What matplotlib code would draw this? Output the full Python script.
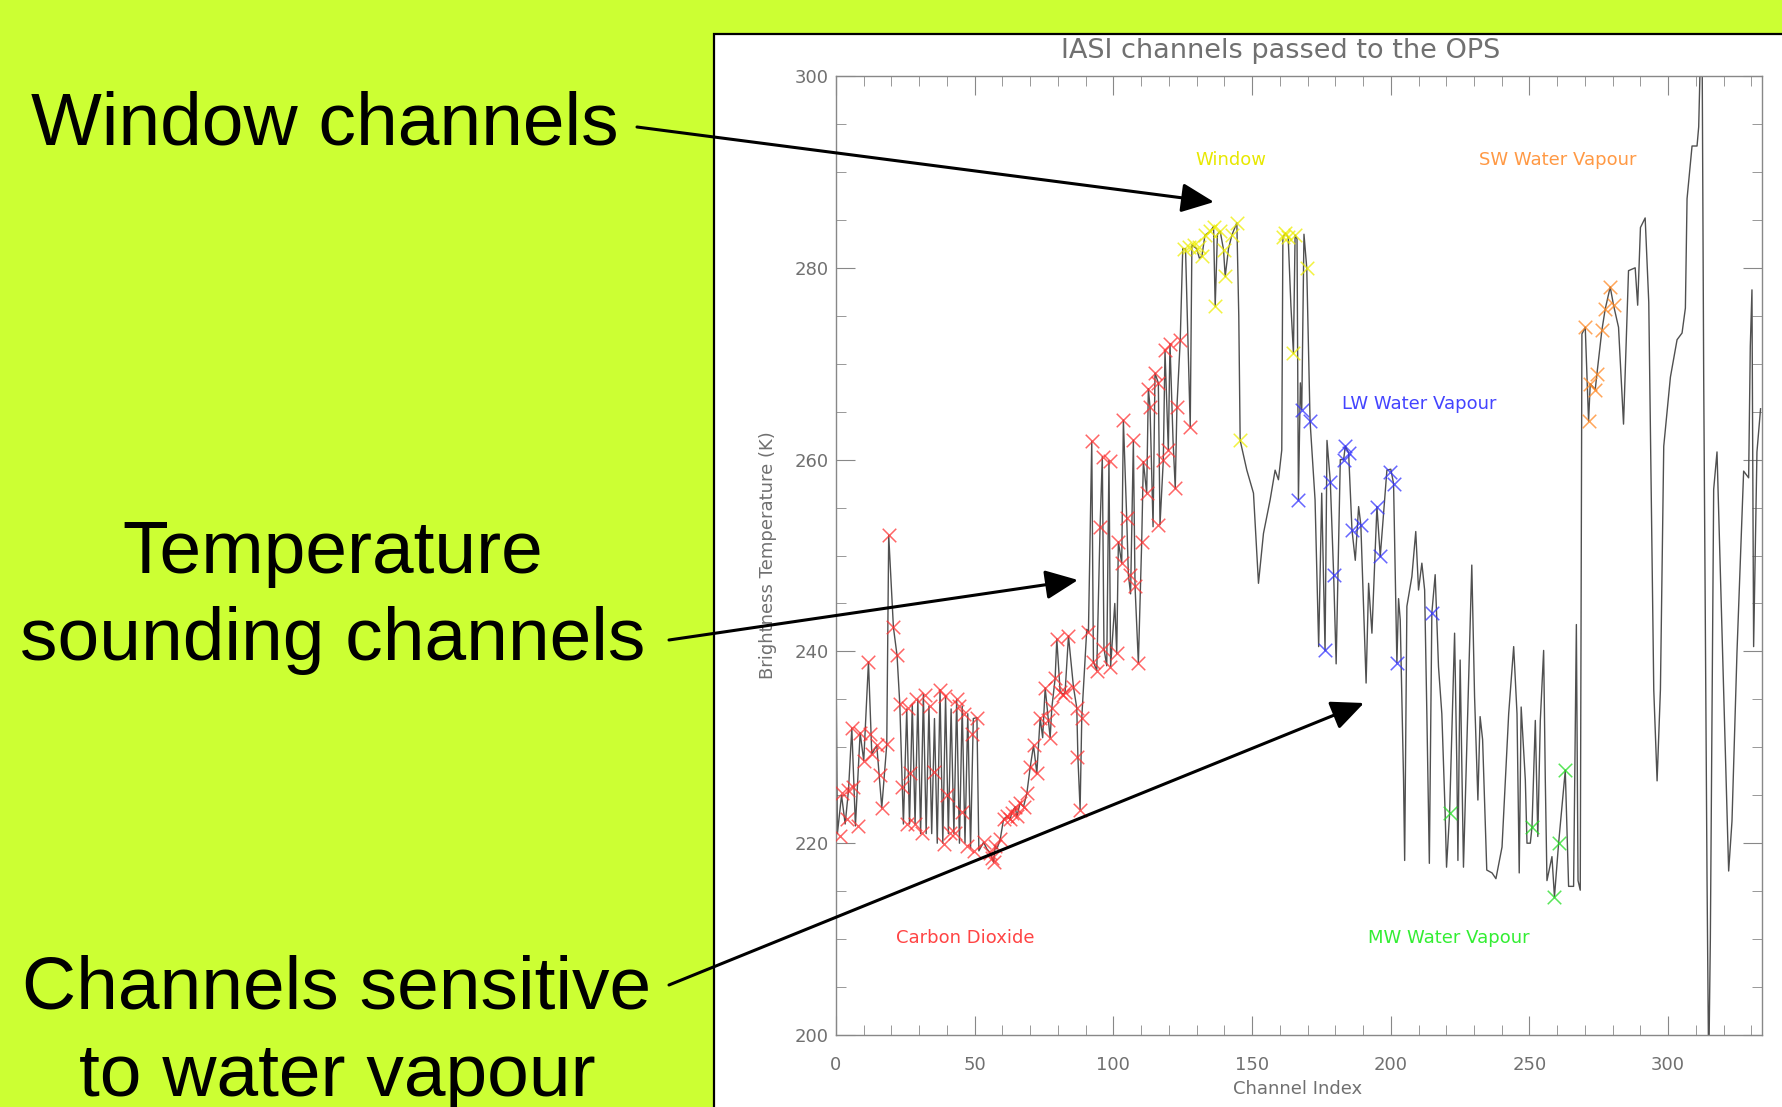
import matplotlib
matplotlib.use("Agg")
import matplotlib.pyplot as plt
from matplotlib.patches import Rectangle, FancyArrowPatch
from matplotlib.ticker import MultipleLocator

# ---- spectrum (channel index, brightness temperature K) ----
line_x = [
    0, 0.5, 2, 3.3, 4.5, 5.7, 7, 8.7, 10, 11.7, 12.9, 14.7, 16.5, 18.3, 19, 20.7, 22, 23, 24.3,
    25.5, 26.5, 27.5, 28.5, 29.5, 30.5, 31.5, 32.5, 33.5, 34.5, 35.5, 36.5, 37.5, 38.5, 39.5,
    40.5, 41.5, 42.5, 43.5, 44.5, 45.5, 46.5, 47.5, 48.5, 49.5, 50.8, 51.5, 53.2, 54.4, 55.6,
    56.2, 56.8, 57.4, 58, 59.2, 60.4, 61.6, 62.8, 63.4, 64.6, 65.2, 66.4, 67.6, 68.8, 70, 71.2,
    72.4, 73.6, 74.5, 75.4, 76.6, 77.2, 77.8, 79, 79.6, 80.8, 82, 82.6, 83.8, 85.6, 86.8, 87.2,
    88, 88.6, 90.4, 91, 92.2, 92.8, 94, 95.2, 96, 96.6, 97.6, 98.4, 99, 100.5, 101.2, 101.8,
    103, 103.6, 104.8, 105.4, 106.2, 107.2, 107.8, 109, 110.2, 110.8, 112, 112.6, 113.2, 114.3,
    115, 116.2, 116.8, 118, 118.6, 119.8, 120.4, 121.5, 122.3, 122.9, 124.1, 125, 126, 127.7,
    128.3, 130, 131, 131.9, 133, 134.9, 136.1, 136.7, 137.5, 138.5, 139.7, 140.3, 141.5, 142.7,
    144.5, 145.2, 145.7, 148.1, 150.5, 152.3, 154.1, 156.5, 158.3, 159.5, 160.7, 161.1, 162,
    163, 164, 164.9, 165.5, 166.2, 166.7, 167.4, 167.9, 168.7, 169.7, 170.9, 172.7, 174, 175.1,
    176.3, 177, 178.2, 179.4, 180.3, 181.8, 183, 183.6, 184.8, 186, 187.2, 188.4, 189.2, 191.1,
    192, 193.2, 195, 196.2, 198.6, 200, 201, 202.2, 202.8, 203.4, 204.6, 205, 205.8, 207.6, 209,
    210, 211.2, 212.2, 213, 213.9, 214.8, 216, 217.2, 218.4, 219.6, 220.1, 221.2, 223, 223.8,
    224.2, 225, 226.2, 227.4, 229.2, 230.2, 231.4, 232.2, 233.1, 234.6, 236.5, 237.9, 240.1,
    242.5, 244.3, 245.5, 246.3, 247, 248.5, 249.1, 250.3, 250.9, 252.1, 253, 253.9, 255.1,
    255.7, 256.3, 258.1, 259, 260.5, 262.9, 264.1, 265.9, 266.9, 267.5, 268.3, 268.9, 270.1,
    271.3, 271.9, 273.7, 274.3, 276.1, 277.3, 279.1, 280.3, 282.1, 283.9, 285.7, 288.1, 289, 290,
    291.7, 293, 294.8, 296, 297.2, 298.4, 300.8, 303.2, 305, 306.2, 306.8, 308.6, 310.4, 311,
    311.6, 312.2, 312.8, 314, 314.6, 315.2, 316.4, 317.6, 320, 321.8, 323, 324.8, 326.6, 327.2,
    329, 329.6, 330.2, 330.8, 332, 333.3,
]
line_y = [
    239, 221, 225, 222, 225.5, 232, 221.8, 231.5, 228.6, 238.9, 229.3, 230.2, 223.7, 230.3, 252.1,
    242.5, 239.6, 234.5, 222, 234, 222, 234.5, 222, 235, 221, 235.5, 221, 234.3, 221, 233, 220,
    236, 220, 235.3, 221, 234, 221, 235, 220, 234.3, 220, 233.5, 219.5, 233, 233.1, 219.2, 220.1,
    219.4, 219, 218.5, 218, 219.7, 219.4, 220.4, 222.5, 222.8, 222.5, 223.2, 223.8, 222.8, 224.2,
    223.8, 225.2, 227.9, 230.2, 227.3, 233.1, 231, 236.2, 232.8, 231, 234.1, 237.2, 241.3, 235.8,
    235.5, 235.8, 241.6, 236.3, 234.1, 229, 223.5, 233.1, 242.3, 242, 261.9, 238.9, 238, 253,
    260.3, 240.3, 238.5, 259.9, 238.4, 245, 239.8, 251.4, 249.2, 264.1, 253.9, 248, 246, 262,
    246.8, 238.8, 251.4, 259.8, 256.5, 267.4, 265.5, 253, 269, 268, 253.2, 260, 271.4, 261, 272.1,
    262, 257, 265.5, 272.5, 282, 282, 263.4, 282.4, 282, 281, 281.2, 283.4, 283.8, 284.3, 276,
    283.5, 283.8, 281.9, 279.1, 282, 283.4, 284.7, 275, 262, 258.9, 256.5, 247.1, 252.3, 255.8,
    258.9, 257.9, 261, 283.2, 283.6, 283.2, 276, 271.1, 283.4, 283, 255.8, 268, 265.2, 283.5,
    280, 264, 255.8, 240.5, 256.5, 240.1, 262, 257.7, 248, 238.7, 260, 260, 261.4, 260.7, 252.7,
    249.5, 255.1, 253.2, 236.7, 247.1, 241.9, 255.1, 249.9, 258.9, 259, 257.5, 238.8, 245.5,
    243.3, 226.6, 218.2, 244.7, 247.8, 252.5, 246.4, 249.2, 246.4, 233.5, 217.9, 244, 248, 238.4,
    233.5, 223.1, 217.5, 223.1, 241.9, 228.3, 218.2, 239.1, 217.5, 230, 249, 235.3, 224.5, 233.2,
    230.8, 217.2, 216.9, 216.3, 219.6, 233.5, 240.5, 233.5, 216.9, 234.2, 226.6, 220, 220, 221.7,
    232.8, 220.7, 232.8, 240.1, 226.6, 216.1, 218.6, 214.4, 220, 227.6, 215.5, 215.5, 242.8,
    216.1, 215.1, 273.1, 273.8, 264, 267.9, 267.3, 268.9, 273.5, 275.7, 278, 276.1, 273.8, 263.7,
    279.7, 280, 276.1, 284.2, 285.2, 276.4, 236, 226.5, 236, 261.4, 268.6, 272.5, 273.2, 275.8,
    287.2, 292.7, 292.7, 294.7, 302, 305, 268.6, 216.4, 196, 210, 256.9, 260.8, 236, 217.1,
    222.3, 239.9, 254.2, 258.8, 258.1, 271.8, 277.7, 240.5, 260.8, 265.3,
]

# ---- selected channels, one list per band ----
co2_x = [
    1.5, 2, 4, 4.5, 6.3, 8.1, 5.7, 8.7, 11.7, 12.3, 10, 12.9, 14.7, 16, 16.5, 18.3, 19, 20.7, 22,
    23, 23.7, 26, 26.7, 25.6, 29, 28.5, 31, 32, 34, 35.2, 37.6, 39.4, 38.8, 40, 41.2, 43.6, 44.2,
    43, 45.4, 46.3, 47.2, 49, 50.8, 49.6, 53.2, 55.6, 56.8, 56.2, 57.4, 59.2, 60.4, 61.6, 62.8,
    63.4, 64.6, 65.2, 66.4, 67.6, 68.8, 70, 71.2, 72.4, 73.6, 75.4, 76.6, 77.2, 77.8, 79, 79.6,
    80.8, 82, 82.6, 83.8, 85.6, 86.8, 86.8, 88, 88.6, 91, 92.2, 92.8, 94, 95.2, 96.4, 96.4, 98.8,
    98.8, 101.2, 101.8, 103, 103.6, 104.8, 106, 107.2, 107.8, 109, 110.2, 110.8, 112, 112.6,
    113.2, 115, 116.2, 116.2, 118, 118.6, 119.8, 120.4, 122.3, 122.9, 124.1, 127.7,
]
co2_y = [
    220.8, 225.2, 222.5, 225.5, 225.9, 221.8, 232, 231.5, 238.9, 231.4, 228.6, 229.3, 230.2,
    227.1, 223.7, 230.3, 252.1, 242.5, 239.6, 234.5, 225.9, 234.1, 227.3, 222, 235, 222, 221.1,
    235.5, 234.3, 227.4, 236, 235.3, 219.9, 225, 221.1, 235, 234.3, 221.1, 223.3, 233.5, 219.7,
    231.4, 233.1, 219.2, 220.1, 219, 218, 218.5, 219.7, 220.4, 222.5, 222.8, 222.5, 223.2, 223.8,
    222.8, 224.2, 223.8, 225.2, 227.9, 230.2, 227.3, 233.1, 236.2, 232.8, 231, 234.1, 237.2,
    241.3, 235.8, 235.5, 235.8, 241.6, 236.3, 234.1, 229, 223.5, 233.1, 242, 261.9, 238.9, 238,
    253, 260.3, 240.3, 259.9, 238.4, 239.8, 251.4, 249.2, 264.1, 253.9, 248, 262, 246.8, 238.8,
    251.4, 259.8, 256.5, 267.4, 265.5, 269, 268, 253.2, 260, 271.4, 261, 272.1, 257, 265.5,
    272.5, 263.4,
]
win_x = [125.3, 127.1, 128.9, 130.7, 131.9, 133.1, 134.9, 136.1, 136.7, 138.5, 139.7, 140.3,
         142.7, 144.5, 145.7, 161.1, 162, 163, 164.9, 165.5, 169.7]
win_y = [282, 282.2, 282.4, 282.2, 281.2, 283.4, 283.8, 284.3, 276, 283.8, 281.9, 279.1,
         283.4, 284.7, 262, 283.2, 283.6, 283.2, 271.1, 283.4, 280]
lw_x = [166.7, 167.9, 170.9, 176.3, 178.2, 179.4, 183, 183.6, 184.8, 186, 189.2, 195, 196.2,
        199.8, 201, 202.2, 214.8]
lw_y = [255.8, 265.2, 264, 240.1, 257.7, 248, 260, 261.4, 260.7, 252.7, 253.2, 255.1, 249.9,
        258.7, 257.5, 238.8, 244]
mw_x = [221.2, 250.9, 259, 260.5, 262.9]
mw_y = [223.1, 221.7, 214.4, 220, 227.6]
sw_x = [270.1, 271.3, 271.9, 273.7, 274.3, 276.1, 277.3, 279.1, 280.3]
sw_y = [273.8, 264, 267.9, 267.3, 268.9, 273.5, 275.7, 278, 276.1]

W, H = 1783, 1107


def fx(px):
    return px / W


def fy(py):
    return 1 - py / H


def main():
    fig = plt.figure(figsize=(W / 100, H / 100), dpi=100)
    fig.patch.set_facecolor("#CCFF33")

    # white IDL window pasted on the slide
    fig.add_artist(Rectangle((fx(714), -0.02), 0.7, fy(34) + 0.02, transform=fig.transFigure,
                             facecolor="white", edgecolor="black", lw=1.6, zorder=-1))

    ax = fig.add_axes([fx(836), fy(1035), fx(1762.5) - fx(836), fy(76) - fy(1035)])
    ax.set_facecolor("white")
    ax.plot(line_x, line_y, color="#505050", lw=1.0, zorder=2)

    mk = dict(marker="x", s=95, linewidths=1.1, alpha=0.75, zorder=3)
    ax.scatter(co2_x, co2_y, color="#FF3333", **mk)
    ax.scatter(win_x, win_y, color="#EEEE00", **mk)
    ax.scatter(lw_x, lw_y, color="#3333FF", **mk)
    ax.scatter(mw_x, mw_y, color="#22DD22", **mk)
    ax.scatter(sw_x, sw_y, color="#FF8822", **mk)

    tk = dict(fontsize=13, ha="center", va="center")
    ax.text(142.2, 291.2, "Window", color="#E8E800", **tk)
    ax.text(260.2, 291.2, "SW Water Vapour", color="#FF9944", **tk)
    ax.text(210.2, 265.8, "LW Water Vapour", color="#4444FF", **tk)
    ax.text(46.7, 210.1, "Carbon Dioxide", color="#FF4444", **tk)
    ax.text(220.9, 210.1, "MW Water Vapour", color="#33EE33", **tk)

    ax.set_xlim(0, 334)
    ax.set_ylim(200, 300)
    ax.xaxis.set_major_locator(MultipleLocator(50))
    ax.xaxis.set_minor_locator(MultipleLocator(10))
    ax.yaxis.set_major_locator(MultipleLocator(20))
    ax.yaxis.set_minor_locator(MultipleLocator(5))
    ax.tick_params(which="both", direction="in", top=True, right=True, color="#888888",
                   labelcolor="#707070", labelsize=13)
    ax.tick_params(which="major", length=14)
    ax.tick_params(which="minor", length=7)
    ax.tick_params(axis="x", pad=15)
    ax.tick_params(axis="y", pad=5)
    for s in ax.spines.values():
        s.set_color("#888888")
        s.set_linewidth(1.0)

    ax.text(-0.073, 0.5, "Brightness Temperature (K)", rotation=90, transform=ax.transAxes,
            fontsize=13, color="#707070", ha="center", va="center")
    ax.text(0.498, -0.056, "Channel Index", transform=ax.transAxes,
            fontsize=13, color="#707070", ha="center", va="center")
    fig.text(fx(1281), fy(51), "IASI channels passed to the OPS", fontsize=19.5,
             color="#707070", ha="center", va="center")

    # slide annotations
    big = dict(fontsize=54, family="Liberation Sans", color="black", va="center", zorder=5)
    fig.text(fx(31), fy(125), "Window channels", ha="left", **big)
    fig.text(fx(333), fy(597), "Temperature\nsounding channels", ha="center",
             multialignment="center", linespacing=1.34, **big)
    fig.text(fx(337), fy(1033), "Channels sensitive\nto water vapour", ha="center",
             multialignment="center", linespacing=1.34, **big)

    arrows = [((637, 127), (1214, 202)),
              ((669, 640), (1078, 580)),
              ((669, 985), (1364, 703))]
    for (x0, y0), (x1, y1) in arrows:
        fig.add_artist(FancyArrowPatch((fx(x0), fy(y0)), (fx(x1), fy(y1)),
                                       transform=fig.transFigure,
                                       arrowstyle="-|>,head_length=1.0,head_width=0.45",
                                       mutation_scale=20, lw=2.2, color="black",
                                       shrinkA=0, shrinkB=0, zorder=6))

    fig.savefig("out.png", dpi=100, facecolor=fig.get_facecolor())


if __name__ == "__main__":
    main()
